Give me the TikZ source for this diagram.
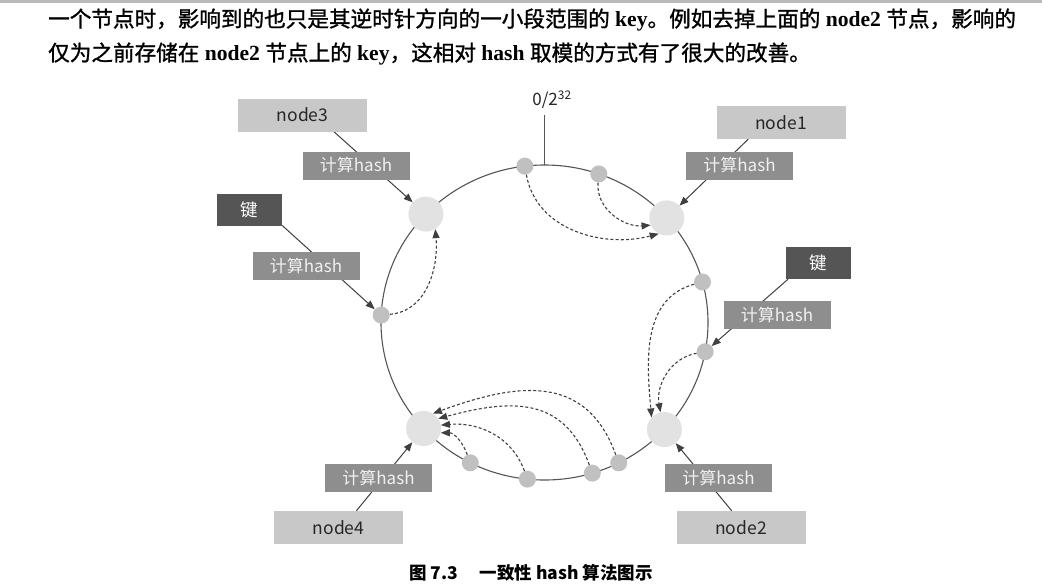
\documentclass[tikz,border=0pt]{standalone}
\usepackage{fontspec}
\setmainfont{Liberation Serif}
\newfontfamily\cjk{Noto Sans CJK SC}
\newfontfamily\cjkbody[FakeBold=1.2]{Noto Sans CJK SC}
\usetikzlibrary{calc,arrows.meta}
\pgfdeclarelayer{back}
\pgfdeclarelayer{bg}
\pgfsetlayers{back,bg,main}
\definecolor{nodegray}{HTML}{C8C8C8}
\definecolor{calcgray}{HTML}{8E8E8E}
\definecolor{keygray}{HTML}{555555}
\definecolor{bigc}{HTML}{E2E2E2}
\definecolor{smallc}{HTML}{C0C0C0}
\definecolor{ringc}{HTML}{555555}
\newcommand{\Cj}[1]{{\cjkbody\mdseries #1}}
\begin{document}
\begin{tikzpicture}[x=1pt,y=-1pt,
  nodebox/.style={fill=nodegray, minimum width=129pt, minimum height=33pt, inner sep=0pt, font=\cjk\fontsize{17.5}{18}\selectfont, text=black!85},
  calcbox/.style={fill=calcgray, minimum width=107pt, minimum height=28pt, inner sep=0pt, font=\cjk\fontsize{17}{18}\selectfont, text=white!94!black},
  keybox/.style={fill=keygray, minimum width=65pt, minimum height=32pt, inner sep=0pt, font=\cjk\fontsize{17.5}{18}\selectfont, text=white},
  bigdot/.style={circle, fill=bigc, minimum size=35pt, inner sep=0pt},
  smalldot/.style={circle, fill=smallc, minimum size=17pt, inner sep=0pt},
  ring/.style={draw=ringc, line width=1.1pt},
  feed/.style={draw=black!75, line width=1pt, -{Triangle[length=9pt,width=7pt]}},
  move/.style={draw=black!75, line width=1.1pt, dash pattern=on 3pt off 2.2pt, -{Triangle[length=9pt,width=7pt]}},
  body/.style={anchor=west, inner sep=0pt, font=\bfseries\fontsize{21.6}{24}\selectfont}
]
\useasboundingbox (0,0) rectangle (1042,587);
\begin{pgfonlayer}{back}
  \fill[white] (0,0) rectangle (1042,587);
  \fill[gray!55] (0,0) rectangle (1042,2.5);
\end{pgfonlayer}

% paragraph
\node[body] (p1) at (48,20) {\Cj{一个节点时，影响到的也只是其逆时针方向的一小段范围的} key\Cj{。例如去掉上面的} node2 \Cj{节点，影响的}};
\node[body] (p2) at (48,54) {\Cj{仅为之前存储在} node2 \Cj{节点上的} key\Cj{，这相对} hash \Cj{取模的方式有了很大的改善。}};

% ring
\coordinate (O) at (544.5,322.5);
\coordinate (top) at ($(O)+(-90:163.5 and 157.5)$);
\coordinate (mark) at (544.5,115);
\node[font=\cjk\fontsize{17}{18}\selectfont, text=black!85] (lab) at (552,100) {0/2\textsuperscript{32}};

% big dots (servers)
\node[bigdot] (c3) at ($(O)+(223.5:163.5 and 157.5)$) {};
\node[bigdot] (c1) at ($(O)+(-41.6:163.5 and 157.5)$) {};
\node[bigdot] (c2) at ($(O)+(42.8:163.5 and 157.5)$) {};
\node[bigdot] (c4) at ($(O)+(137.7:163.5 and 157.5)$) {};

% small dots (keys)
\node[smalldot] (s1) at ($(O)+(-96.9:163.5 and 157.5)$) {};
\node[smalldot] (s2) at ($(O)+(-70.6:163.5 and 157.5)$) {};
\node[smalldot] (sR1) at ($(O)+(-14.9:163.5 and 157.5)$) {};
\node[smalldot] (sR2) at ($(O)+(10.7:163.5 and 157.5)$) {};
\node[smalldot] (sL) at ($(O)+(182.7:163.5 and 157.5)$) {};
\node[smalldot] (b1) at ($(O)+(117:163.5 and 157.5)$) {};
\node[smalldot] (b2) at ($(O)+(96:163.5 and 157.5)$) {};
\node[smalldot] (b3) at ($(O)+(73:163.5 and 157.5)$) {};
\node[smalldot] (b4) at ($(O)+(63:163.5 and 157.5)$) {};

% boxes
\node[nodebox] (n3) at (302.5,115) {node3};
\node[calcbox] (k3) at (356,165.5) {计算hash};
\node[keybox] (kyL) at (249.5,209.5) {键};
\node[calcbox] (kL) at (306,266) {计算hash};
\node[nodebox] (n1) at (781,122.5) {node1};
\node[calcbox] (k1) at (739.5,165.5) {计算hash};
\node[keybox] (kyR) at (818.5,263) {键};
\node[calcbox] (kR) at (777,315) {计算hash};
\node[nodebox] (n2) at (741,527.5) {node2};
\node[calcbox] (k2) at (718.5,478) {计算hash};
\node[nodebox] (n4) at (338.5,527.5) {node4};
\node[calcbox] (k4) at (378.5,477.5) {计算hash};

\begin{pgfonlayer}{bg}
  \draw[ring] (O) ellipse [x radius=163.5, y radius=157.5];
  \draw[draw=ringc, line width=1.1pt] (mark) -- (top);
  \draw[feed] (n3.-28) -- (c3);
  \draw[feed] (kyL.-26) -- (sL);
  \draw[feed] (n1.-153) -- (c1);
  \draw[feed] (kyR.-152) -- (sR2);
  \draw[feed] (n2.119) -- (c2);
  \draw[feed] (n4.43) -- (c4);
\end{pgfonlayer}

% remapped keys
\draw[move] (s1) to[out=-80,in=195] (c1.243);
\draw[move] (s2) to[out=-95,in=185] (c1.204);
\draw[move] (sR1) to[out=195,in=95] (c2.137);
\draw[move] (sR2) to[out=190,in=100] (c2.103);
\draw[move] (sL) to[out=5,in=-85] (c3.-58);
\draw[move] (b1) to[out=110,in=0] (c4.-14);
\draw[move] (b2) to[out=110,in=5] (c4.11);
\draw[move] (b3) to[out=110,in=15,looseness=1.2] (c4.34);
\draw[move] (b4) to[out=110,in=20,looseness=1.2] (c4.58);

% caption
\node[font=\cjk\bfseries\fontsize{17.5}{18}\selectfont] (cap) at (531,573) {图 7.3\quad\ 一致性 hash 算法图示};
\end{tikzpicture}
\end{document}
